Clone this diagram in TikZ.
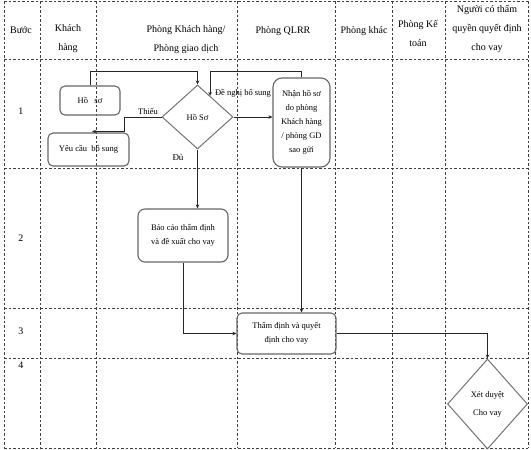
\documentclass[tikz,border=0pt]{standalone}
\usepackage{fontspec}
\setmainfont{Liberation Serif}
\usetikzlibrary{shapes.geometric,calc,arrows.meta}
\begin{document}
\begin{tikzpicture}[x=1pt,y=-1pt,
  grid/.style={draw=black!75,line width=0.8pt,dash pattern=on 2.5pt off 2pt},
  box/.style={draw=black!60,line width=1.1pt,rounded corners=5pt,align=center,inner sep=1pt,font=\fontsize{8.5}{14}\selectfont},
  dia/.style={diamond,draw=black!55,line width=1pt,align=center,inner sep=0pt,font=\fontsize{8.5}{18}\selectfont},
  hdr/.style={align=center,inner sep=0pt,font=\fontsize{10}{19}\selectfont},
  lbl/.style={inner sep=0pt,font=\fontsize{8.5}{10}\selectfont},
  arr/.style={draw=black!85,line width=0.9pt,-{Stealth[length=4pt,width=3.5pt]}}]
\useasboundingbox (0,0) rectangle (531,450);
% grid
\foreach \gx in {4,40,96,237,335,392,445,528} \draw[grid] (\gx,1) -- (\gx,448);
\foreach \gy in {1,59,168,308,358,448} \draw[grid] (4,\gy) -- (528,\gy);
% headers
\node[hdr] (h1) at (21,30) {Bước};
\node[hdr] (h2) at (68,39) {Khách\\hàng};
\node[hdr] (h3) at (186,40) {Phòng Khách hàng/\\Phòng giao dịch};
\node[hdr] (h4) at (283,31) {Phòng QLRR};
\node[hdr] (h5) at (364,31) {Phòng khác};
\node[hdr] (h6) at (418,33) {Phòng Kế\\toán};
\node[hdr] (h7) at (487,29) {Người có thẩm\\quyền quyết định\\cho vay};
% row numbers
\node[hdr] (r1) at (21,111) {1};
\node[hdr] (r2) at (21,238) {2};
\node[hdr] (r3) at (21,331) {3};
\node[hdr] (r4) at (21,365) {4};
% nodes
\node[box,minimum width=60pt,minimum height=29pt] (hoso) at (90,100.5) {Hồ\ \ \ sơ};
\node[box,minimum width=81pt,minimum height=33pt] (yeucau) at (88.5,149.5) {Yêu cầu\ \ bổ sung};
\node[dia,minimum width=71pt,minimum height=64pt] (hs) at (197.5,117) {Hồ Sơ};
\node[box,minimum width=57pt,minimum height=89pt,rounded corners=9pt] (nhan) at (301.5,122.5) {Nhận hồ sơ\\do phòng\\Khách hàng\\/ phòng GD\\sao gửi};
\node[box,minimum width=90pt,minimum height=53pt,rounded corners=7pt] (baocao) at (183,235.5) {Báo cáo thẩm định\\và đề xuất cho vay};
\node[box,minimum width=99pt,minimum height=41pt] (thamdinh) at (286.5,333.5) {Thẩm định và quyết\\định cho vay};
\node[dia,minimum width=80pt,minimum height=90pt] (xet) at (487.5,404) {Xét duyệt\\Cho vay};
% helper coordinates
\coordinate (ycend) at (92,131.5);
\coordinate (dnend) at ($(hs.north)!0.35!(hs.east)$);
% connectors
\draw[arr] (hoso.north) -- ++(0,-14) -| (hs.north);
\draw[arr] (hs.west) -- ++(-37,0) |- (ycend);
\draw[arr] (hs.south) -- (hs.south |- baocao.north);
\draw[arr] (hs.east) -- (nhan.west |- hs.east);
\draw[arr] (nhan.north) -- ++(0,-6) -| (dnend);
\draw[arr] (nhan.south) -- (nhan.south |- thamdinh.north);
\draw[arr] (baocao.south) |- (thamdinh.west);
\draw[arr] (thamdinh.east) -| (xet.north);
% labels
\node[lbl] (lthieu) at (148,111) {Thiếu};
\node[lbl,font=\fontsize{9}{10}\selectfont] (ldu) at (178,157) {Đủ};
\node[lbl] (ldn) at (243,93) {Đề nghị bổ sung};
\end{tikzpicture}
\end{document}
